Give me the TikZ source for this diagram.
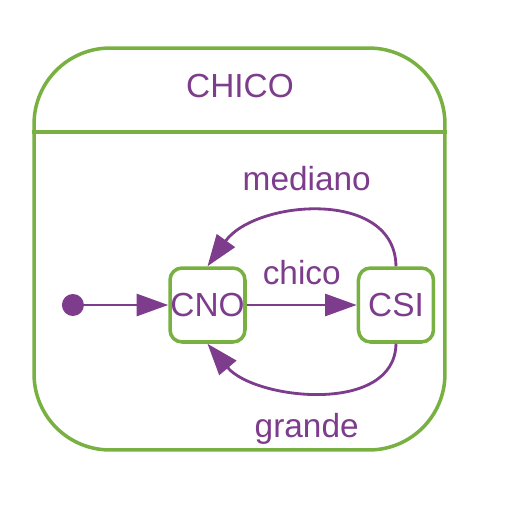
\documentclass[tikz,border=0pt]{standalone}
\usepackage{fontspec}
\setmainfont{Liberation Sans}
\usetikzlibrary{shapes,arrows.meta,positioning}
\usepackage{xcolor}
\definecolor{stpurple}{RGB}{125,60,140}
\definecolor{stgreen}{RGB}{120,176,66}
\tikzset{
superbox/.style={rectangle,rounded corners=1.52cm,draw=stgreen,line width=2pt,
  minimum width=8.22cm,minimum height=8.04cm,inner sep=0pt},
supline/.style={draw=stgreen,line width=2pt},
stlabel/.style={text=stpurple,inner sep=0pt,font=\fontsize{19}{22}\selectfont},
statebox/.style={rectangle,rounded corners=0.24cm,draw=stgreen,line width=2pt,
  minimum width=1.5cm,minimum height=1.48cm,inner sep=0pt,stlabel},
startdot/.style={circle,fill=stpurple,minimum size=0.44cm,inner sep=0pt},
transarr/.style={draw=stpurple,line width=1.6pt,-{Triangle[length=18pt,width=12.5pt]}}
}

\begin{document}
\begin{tikzpicture}[x=0.02cm,y=-0.02cm]
\useasboundingbox (0,0) rectangle (508,508);
\node[superbox] (chico) at (239.5,249) {};
\node[stlabel] (chicotitle) at (240,86) {CHICO};
\coordinate (sep) at (0,132);
\draw[supline] (chico.west |- sep) -- (chico.east |- sep);
\node[statebox] (cno) at (207.5,305) {CNO};
\node[statebox,right=2.2cm of cno] (csi) {CSI};
\node[startdot,left=1.68cm of cno] (start) {};
\draw[transarr] (start) -- (cno);
\draw[transarr] (cno) -- node[stlabel,above=0.38cm] {chico} (csi);
\draw[transarr] (csi.north) .. controls (395,188) and (255,200) .. (cno.north)
  node[pos=0.55,stlabel,above=0.42cm] {mediano};
\draw[transarr] (csi.south) .. controls (395,415) and (255,400) .. (cno.south)
  node[pos=0.55,stlabel,below=0.42cm] {grande};
\end{tikzpicture}
\end{document}
